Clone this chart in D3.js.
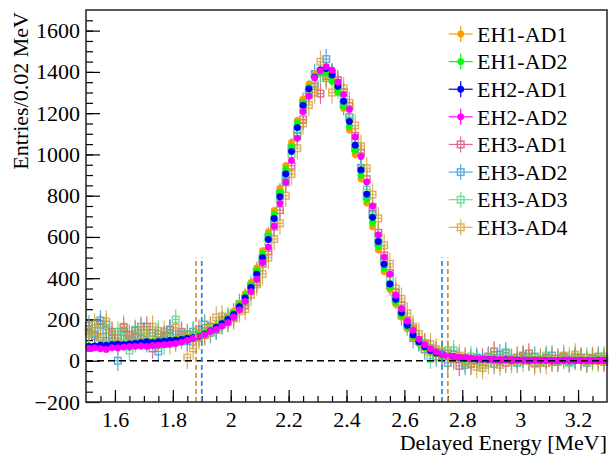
<!DOCTYPE html>
<html>
<head>
<meta charset="utf-8">
<script src="https://cdn.jsdelivr.net/npm/d3@7"></script>
<style>
  body { margin: 0; background: #fff; }
  svg { display: block; }
</style>
</head>
<body>
<svg width="613" height="455"></svg>
<script>
// bin grid: 90 bins of 0.02 MeV from 1.5 to 3.3
var binLow = 1.5, binWidth = 0.02, nBins = 90;

var seriesNames = ['EH1-AD1', 'EH1-AD2', 'EH2-AD1', 'EH2-AD2',
                   'EH3-AD1', 'EH3-AD2', 'EH3-AD3', 'EH3-AD4'];

var eh1ad1 = [66, 70, 72, 75, 74, 77, 80, 82, 80, 86, 90, 92, 94, 96, 100, 104, 108, 112, 118, 125, 136, 152, 170, 190, 212,
  240, 278, 325, 380, 450, 533, 625, 728, 835, 945, 1058, 1165, 1268, 1340, 1390, 1408, 1402, 1362, 1300, 1222, 1118, 1000, 882, 765, 650,
  538, 432, 345, 274, 212, 155, 112, 83, 61, 45, 34, 27, 22,
  18, 15, 12, 9, 8, 6, 6, 4, 5, 3, 4, 2,
  3, 2, 3, 1, 2, 3, 2, 1, 2, 2, 1, 3, 2, 1, 2];

var eh1ad2 = [72, 70, 76, 75, 80, 78, 82, 80, 86, 88, 90, 92, 95, 98, 100, 102, 106, 110, 116, 124, 134, 150, 168, 186, 208,
  232, 271, 315, 368, 436, 518, 608, 711, 817, 927, 1038, 1151, 1250, 1325, 1378, 1400, 1395, 1355, 1305, 1232, 1135, 1020, 900, 783, 670,
  555, 450, 358, 284, 221, 162, 117, 86, 64, 47, 36, 28, 23,
  19, 15, 12, 10, 8, 7, 5, 5, 4, 4, 3, 3,
  2, 3, 2, 2, 1, 3, 2, 2, 1, 2, 3, 1, 2, 2, 1];

var eh2ad1 = [70, 72, 75, 74, 78, 80, 78, 82, 84, 88, 92, 88, 92, 95, 98, 100, 104, 108, 112, 118, 130, 145, 162, 180, 200,
  225, 262, 305, 355, 420, 500, 588, 690, 795, 905, 1015, 1130, 1237, 1318, 1375, 1410, 1416, 1385, 1330, 1258, 1160, 1045, 925, 808, 695,
  578, 468, 372, 298, 232, 172, 125, 92, 68, 50, 38, 30, 24,
  20, 16, 13, 10, 8, 7, 6, 5, 4, 5, 3, 4,
  3, 2, 3, 2, 3, 2, 1, 2, 3, 1, 2, 1, 2, 1, 2];

var eh2ad2 = [60, 62, 58, 55, 64, 62, 66, 68, 70, 72, 70, 74, 76, 78, 80, 84, 90, 98, 108, 118, 128, 142, 152, 168, 184,
  212, 246, 288, 335, 395, 475, 550, 652, 762, 865, 970, 1078, 1207, 1282, 1372, 1405, 1425, 1408, 1352, 1290, 1218, 1085, 990, 866, 750,
  610, 502, 420, 318, 252, 192, 148, 105, 78, 57, 43, 32, 24,
  20, 17, 14, 12, 9, 8, 7, 5, 6, 4, 5, 3,
  4, 3, 2, 3, 2, 3, 1, 2, 3, 2, 2, 1, 3, 2, 2];

var eh3ad1 = [150, 120, 175, 95, 140, 110, 160, 125, 145, 105, 165, 60, 130, 115, 150, 95, 140, 125, 110, 150, 125, 165, 150, 180, 190,
  210, 255, 270, 345, 380, 470, 530, 650, 730, 865, 945, 1090, 1170, 1290, 1330, 1295, 1380, 1390, 1360, 1300, 1235, 1090, 1008, 880, 745,
  620, 510, 425, 330, 270, 195, 155, 100, 85, 50, 40, 20, 35,
  10, -25, 15, -15, 5, 10, 20, 45, 0, -10, 5, 15,
  25, 35, -10, 5, 15, -5, 10, 20, -5, 5, 15, 0, 10, 5, -5];

var eh3ad2 = [170, 130, 195, 150, 110, 0, 140, 100, 120, 165, 90, 135, 45, 120, 150, 110, 130, 95, 140, 125, 175, 135, 160, 195, 205,
  230, 275, 300, 360, 430, 495, 600, 680, 810, 900, 1030, 1120, 1250, 1310, 1390, 1400, 1462, 1390, 1345, 1240, 1180, 1030, 935, 800, 710,
  570, 480, 365, 305, 220, 180, 110, 95, 55, 60, 20, 35, -10,
  30, 10, -20, 5, 15, -5, 10, -15, 30, 40, 5, -10,
  15, 0, 20, -10, 10, 25, -5, 10, 0, 15, 5, -10, 10, 20, 5];

var eh3ad3 = [130, 160, 115, 175, 95, 140, 120, 50, 150, 110, 135, 90, 145, 80, 125, 200, 105, 130, 140, 115, 160, 140, 150, 175, 210,
  220, 255, 290, 340, 400, 485, 575, 660, 780, 870, 1000, 1105, 1215, 1300, 1340, 1395, 1370, 1395, 1320, 1270, 1180, 1060, 930, 830, 705,
  600, 480, 390, 300, 245, 170, 140, 95, 75, 10, 45, 30, 50,
  50, 15, -10, 20, 0, -20, 10, 25, -5, 35, 10, -5,
  20, 5, 15, -5, 25, 10, 0, 15, -10, 20, 5, 15, 0, 10, 20];

var eh3ad4 = [140, 175, 110, 190, 130, 85, 165, 120, 95, 150, 115, 165, 100, 140, 85, 160, 120, 15, 60, 110, 130, 160, 210, 215, 195,
  205, 240, 250, 320, 370, 420, 500, 590, 666, 800, 905, 1030, 1150, 1240, 1300, 1449, 1370, 1300, 1345, 1320, 1250, 1140, 1040, 933, 805,
  690, 560, 470, 350, 300, 230, 165, 130, 75, 80, 55, 45, 20,
  10, 25, 0, -15, -30, -35, -10, 5, -20, 10, -5, 15,
  0, 10, -15, 5, -12, 10, 0, 25, 10, 30, 5, -5, 15, 0, 10];

// typical half-length of the vertical error bars, per series
var errorSize = [18, 18, 15, 15, 50, 50, 50, 55];

// delayed energy cut lines
var cutEnergies = [1.88, 1.90, 2.73, 2.75];
var cutTop = 500;

var yTicks = [-200, 0, 200, 400, 600, 800, 1000, 1200, 1400, 1600];
var xTicks = [1.6, 1.8, 2.0, 2.2, 2.4, 2.6, 2.8, 3.0, 3.2];

var allValues = [eh1ad1, eh1ad2, eh2ad1, eh2ad2, eh3ad1, eh3ad2, eh3ad3, eh3ad4];
var colors = ['#ff9900', '#00ff00', '#0000ff', '#ff00ff', '#d8426f', '#2f92d8', '#4cd47c', '#d49a30'];
var filled = [true, true, true, true, false, false, false, false];
var cutColors = ['#d49a30', '#2f92d8', '#2f92d8', '#d49a30'];

var serif = "'Liberation Serif', 'Times New Roman', Tinos, 'DejaVu Serif', serif";
var frame = {left: 86, right: 607, top: 10, bottom: 402};

var xScale = d3.scaleLinear().domain([1.5, 3.3]).range([frame.left, frame.right]);
var yScale = d3.scaleLinear().domain([-200, 1700]).range([frame.bottom, frame.top]);

var energy = d3.range(nBins).map(function(i) { return binLow + binWidth * (i + 0.5); });

var series = seriesNames.map(function(name, k) {
  return {
    name: name, color: colors[k], filled: filled[k], err: errorSize[k],
    points: allValues[k].map(function(v, i) { return {e: energy[i], v: v}; })
  };
});

var svg = d3.select('svg');

// minor ticks
svg.append('g')
   .attr('transform', 'translate(0,' + frame.bottom + ')')
   .call(d3.axisBottom(xScale).tickValues(d3.range(1.55, 3.3, 0.05)).tickSize(-6).tickFormat(''))
   .call(function(g) { g.select('.domain').remove(); });
svg.append('g')
   .attr('transform', 'translate(' + frame.left + ',0)')
   .call(d3.axisLeft(yScale).tickValues(d3.range(-150, 1700, 50)).tickSize(-7).tickFormat(''))
   .call(function(g) { g.select('.domain').remove(); });

// major ticks + labels
var xAxis = svg.append('g')
   .attr('transform', 'translate(0,' + frame.bottom + ')')
   .call(d3.axisBottom(xScale).tickValues(xTicks).tickSize(-12).tickPadding(9)
         .tickFormat(function(d) { return String(+d.toFixed(1)); }));
xAxis.select('.domain').remove();

var yAxis = svg.append('g')
   .attr('transform', 'translate(' + frame.left + ',0)')
   .call(d3.axisLeft(yScale).tickValues(yTicks).tickSize(-14).tickPadding(6)
         .tickFormat(d3.format('d')));
yAxis.select('.domain').remove();

svg.selectAll('g.tick text').attr('font-size', 22).attr('fill', '#000');
svg.selectAll('.tick line').attr('stroke', '#000').attr('stroke-width', 1.2);

// data: far hall squares first, near hall dots on top
var order = [4, 5, 6, 7, 0, 1, 2, 3];
order.forEach(function(k) {
  var s = series[k];
  var g = svg.append('g').attr('class', 'series');
  if (!s.filled) g.attr('opacity', 0.78);

  g.selectAll('line.ey').data(s.points).enter().append('line')
   .attr('x1', function(d) { return xScale(d.e); })
   .attr('x2', function(d) { return xScale(d.e); })
   .attr('y1', function(d) { return yScale(d.v - s.err); })
   .attr('y2', function(d) { return yScale(d.v + s.err); })
   .attr('stroke', s.color).attr('stroke-width', 1.2);

  g.selectAll('line.ex').data(s.points).enter().append('line')
   .attr('x1', function(d) { return xScale(d.e - binWidth / 2); })
   .attr('x2', function(d) { return xScale(d.e + binWidth / 2); })
   .attr('y1', function(d) { return yScale(d.v); })
   .attr('y2', function(d) { return yScale(d.v); })
   .attr('stroke', s.color).attr('stroke-width', 1.2);

  if (s.filled) {
    g.selectAll('circle').data(s.points).enter().append('circle')
     .attr('cx', function(d) { return xScale(d.e); })
     .attr('cy', function(d) { return yScale(d.v); })
     .attr('r', 3.4)
     .attr('fill', s.color);
  } else {
    g.selectAll('rect').data(s.points).enter().append('rect')
     .attr('x', function(d) { return xScale(d.e) - 3.3; })
     .attr('y', function(d) { return yScale(d.v) - 3.3; })
     .attr('width', 6.6).attr('height', 6.6)
     .attr('fill', 'none')
     .attr('stroke', s.color).attr('stroke-width', 1.4);
  }
});

// zero line
svg.append('line')
   .attr('x1', frame.left).attr('x2', frame.right)
   .attr('y1', yScale(0)).attr('y2', yScale(0))
   .attr('stroke', '#000').attr('stroke-width', 1.6)
   .attr('stroke-dasharray', '7,4');

// cut lines
svg.selectAll('line.cut').data(cutEnergies).enter().append('line')
   .attr('class', 'cut')
   .attr('x1', function(d) { return xScale(d); })
   .attr('x2', function(d) { return xScale(d); })
   .attr('y1', yScale(-200)).attr('y2', yScale(cutTop))
   .attr('stroke', function(d, i) { return cutColors[i]; })
   .attr('stroke-width', 1.8)
   .attr('stroke-dasharray', '5,3');

// frame
svg.append('rect')
   .attr('x', frame.left).attr('y', frame.top)
   .attr('width', frame.right - frame.left).attr('height', frame.bottom - frame.top)
   .attr('fill', 'none').attr('stroke', '#222').attr('stroke-width', 1.5);

// axis titles
svg.append('text')
   .attr('x', frame.right).attr('y', 450)
   .attr('text-anchor', 'end').attr('font-size', 22)
   .text('Delayed Energy [MeV]');

svg.append('text')
   .attr('transform', 'translate(28,' + 12 + ') rotate(-90)')
   .attr('text-anchor', 'end').attr('font-size', 22)
   .text('Entries/0.02 MeV');

// legend
var legend = svg.append('g');
var legY = d3.scaleLinear().domain([0, 7]).range([34, 227.3]);
series.forEach(function(s, k) {
  var cy = legY(k), cx = 460.7;
  var g = legend.append('g');
  if (!s.filled) g.attr('opacity', 0.78);
  g.append('line').attr('x1', cx - 12).attr('x2', cx + 12).attr('y1', cy).attr('y2', cy)
   .attr('stroke', s.color).attr('stroke-width', 1.2);
  g.append('line').attr('x1', cx).attr('x2', cx).attr('y1', cy - 8).attr('y2', cy + 8)
   .attr('stroke', s.color).attr('stroke-width', 1.2);
  if (s.filled) {
    g.append('circle').attr('cx', cx).attr('cy', cy).attr('r', 3.4).attr('fill', s.color);
  } else {
    g.append('rect').attr('x', cx - 3.3).attr('y', cy - 3.3).attr('width', 6.6).attr('height', 6.6)
     .attr('fill', 'none').attr('stroke', s.color).attr('stroke-width', 1.4);
  }
  legend.append('text').attr('x', 477).attr('y', cy).attr('dy', '0.35em')
   .attr('font-size', 22).text(s.name);
});

// all text in a Times-like face
svg.selectAll('text').style('font-family', serif);
</script>
</body>
</html>
